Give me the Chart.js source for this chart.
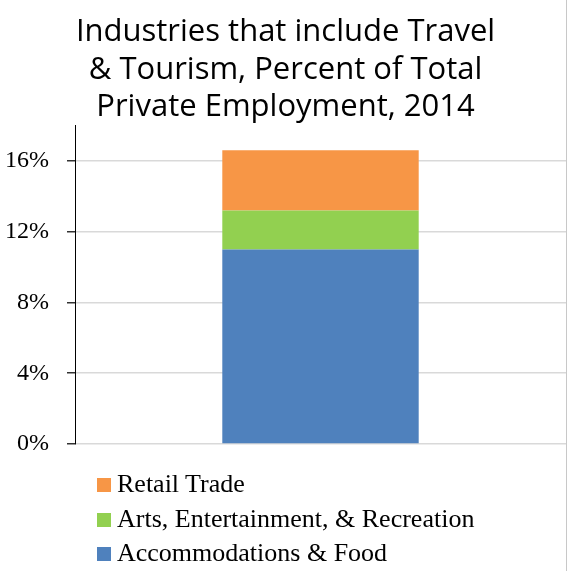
<!DOCTYPE html>
<html>
<head>
<meta charset="utf-8">
<script src="https://cdn.jsdelivr.net/npm/chart.js@4"></script>
<style>
  html, body { margin: 0; padding: 0; background: #fff; }
  #wrap { position: relative; width: 572px; height: 571px; }
  #frame { position: absolute; left: 566px; top: 0; width: 1px; height: 571px; background: #c8c8c8; }
  #legend { position: absolute; left: 97px; top: 467px; font-family: 'Liberation Serif', 'Noto Serif', 'DejaVu Serif', serif; font-size: 26px; color: #000; }
  #legend div { height: 34.5px; line-height: 34.5px; white-space: nowrap; }
  #legend span { display: inline-block; width: 14px; height: 14px; margin-right: 6px; vertical-align: 0px; }
</style>
</head>
<body>
<div id="wrap">
  <canvas id="myChart" width="572" height="571"></canvas>
  <div id="frame"></div>
  <div id="legend"></div>
</div>
<script>
'use strict';

// Data - one stacked bar, shares of total private employment (%)
let categories = ['2014'];
let accommodationsFood = [11.0];
let artsEntertainment = [2.2];
let retailTrade = [3.4];
let yTicks = [0, 4, 8, 12, 16];

const serifFont = "'Liberation Serif', 'Noto Serif', 'DejaVu Serif', serif";
const ctx = document.getElementById('myChart');

let datasets = [
  { label: 'Accommodations & Food', data: accommodationsFood, backgroundColor: '#4F81BD' },
  { label: 'Arts, Entertainment, & Recreation', data: artsEntertainment, backgroundColor: '#92D050' },
  { label: 'Retail Trade', data: retailTrade, backgroundColor: '#F79646' }
];

let myChartObj = {
  type: 'bar',
  data: {
    labels: categories,
    datasets: datasets
  },
  options: {
    responsive: false,
    animation: false,
    layout: { padding: { left: 5, right: 6, bottom: 127 } },
    datasets: {
      bar: { barPercentage: 0.4, categoryPercentage: 1, borderWidth: 0 }
    },
    plugins: {
      legend: { display: false },
      tooltip: { enabled: false },
      title: {
        display: true,
        text: ['Industries that include Travel', '& Tourism, Percent of Total', 'Private Employment, 2014'],
        color: '#000',
        font: { family: "'Open Sans'", size: 31, weight: '500', lineHeight: 1.2 },
        padding: { top: 14, bottom: 0 }
      }
    },
    scales: {
      x: { stacked: true, display: false },
      y: {
        stacked: true,
        min: 0,
        max: 18,
        afterBuildTicks: (scale) => {
          scale.ticks = yTicks.map(v => ({ value: v }));
        },
        // fixed axis width so the plot starts at the same spot whatever the font
        afterFit: (scale) => {
          scale.width = 70;
        },
        border: { display: true, color: '#000', width: 1 },
        grid: { color: '#d9d9d9', lineWidth: 1.5, tickColor: '#333', tickLength: 8 },
        ticks: {
          color: '#000',
          padding: 18,
          font: { family: serifFont, size: 24 },
          callback: (v) => v + '%'
        }
      }
    }
  }
};

let chart = new Chart(ctx, myChartObj);

// Legend rows, top to bottom in reverse stack order
let legendBox = document.getElementById('legend');
for (let i = datasets.length - 1; i >= 0; i--) {
  let row = document.createElement('div');
  let sw = document.createElement('span');
  sw.style.background = datasets[i].backgroundColor;
  row.appendChild(sw);
  row.appendChild(document.createTextNode(datasets[i].label));
  legendBox.appendChild(row);
}
</script>
</body>
</html>
